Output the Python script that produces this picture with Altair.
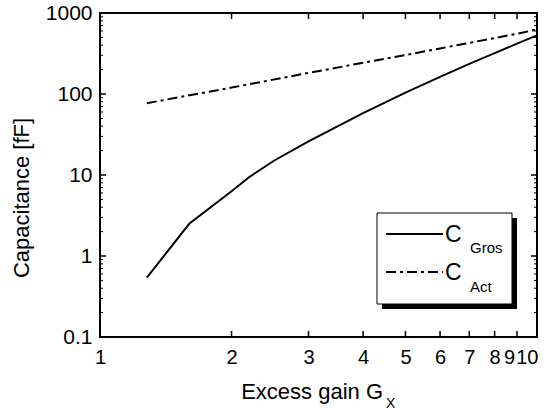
import altair as alt
import pandas as pd

# ---- data ----
gros_g = [1.28, 1.6, 2.0, 2.2, 2.5, 3.0, 4.0, 5.0, 6.0, 7.0, 8.0, 9.0, 10.0]
gros_c = [0.54, 2.5, 6.3, 9.5, 15.0, 26.0, 58.0, 104.0, 163.0, 235.0, 320.0, 418.0, 530.0]
act_g = [1.28, 2.0, 3.0, 4.0, 5.0, 6.0, 7.0, 8.0, 9.0, 10.0]
act_c = [77.0, 120.0, 182.0, 243.0, 303.0, 365.0, 428.0, 490.0, 555.0, 625.0]

x_labels = [1, 2, 3, 4, 5, 6, 7, 8, 9, 10]
y_labels = [0.1, 1, 10, 100, 1000]
x_major_ticks = [2, 3, 4, 5, 6, 7, 8, 9]
y_major_ticks = [1, 10, 100]
y_minor_ticks = [0.2, 0.3, 0.4, 0.5, 0.6, 0.7, 0.8, 0.9,
                 2, 3, 4, 5, 6, 7, 8, 9,
                 20, 30, 40, 50, 60, 70, 80, 90,
                 200, 300, 400, 500, 600, 700, 800, 900]
legend_names = ["C", "C"]
legend_subs = ["Gros", "Act"]

W, H = 437, 324
FONT = "Liberation Sans"

xscale = alt.Scale(type="log", domain=[1, 10], nice=False)
yscale = alt.Scale(type="log", domain=[0.1, 1000], nice=False)
xaxis = alt.Axis(values=x_labels, format="~g", title=None, ticks=False, domain=False,
                 grid=False, labelFontSize=20, labelFont=FONT, labelColor="black",
                 labelOverlap=False, labelFlush=False, labelPadding=10,
                 labelAlign={"condition": {"test": "datum.value == 10", "value": "right"},
                             "value": "center"},
                 labelOffset={"condition": [{"test": "datum.value == 9", "value": -8},
                                            {"test": "datum.value == 10", "value": 1}],
                              "value": 0})
yaxis = alt.Axis(values=y_labels, format="~g", title=None, ticks=False, domain=False,
                 grid=False, labelFontSize=21, labelFont=FONT, labelColor="black",
                 labelOverlap=False, labelFlush=False, labelPadding=8)


def X(f):
    return alt.X(f, type="quantitative", scale=xscale, axis=xaxis)


def Y(f):
    return alt.Y(f, type="quantitative", scale=yscale, axis=yaxis)


df_gros = pd.DataFrame({"G": gros_g, "C": gros_c})
df_act = pd.DataFrame({"G": act_g, "C": act_c})
df_xt = pd.DataFrame({"t": x_major_ticks})
df_yt = pd.DataFrame({"t": y_major_ticks})
df_ym = pd.DataFrame({"t": y_minor_ticks})
one = pd.DataFrame({"a": [0]})

line_gros = alt.Chart(df_gros).mark_line(color="black", strokeWidth=2).encode(x=X("G"), y=Y("C"))
line_act = alt.Chart(df_act).mark_line(color="black", strokeWidth=2, strokeDash=[10, 4, 3, 4]).encode(
    x=X("G"), y=Y("C"))

tick_kw = dict(color="black", strokeWidth=1.5)
xt_bottom = alt.Chart(df_xt).mark_rule(**tick_kw).encode(x=X("t"), y=alt.value(H), y2=alt.value(H - 6))
xt_top = alt.Chart(df_xt).mark_rule(**tick_kw).encode(x=X("t"), y=alt.value(0), y2=alt.value(6))
yt_left = alt.Chart(df_yt).mark_rule(**tick_kw).encode(y=Y("t"), x=alt.value(0), x2=alt.value(6))
yt_right = alt.Chart(df_yt).mark_rule(**tick_kw).encode(y=Y("t"), x=alt.value(W - 6), x2=alt.value(W))
ym_left = alt.Chart(df_ym).mark_rule(color="black", strokeWidth=1).encode(y=Y("t"), x=alt.value(0), x2=alt.value(3))
ym_right = alt.Chart(df_ym).mark_rule(color="black", strokeWidth=1).encode(y=Y("t"), x=alt.value(W - 3), x2=alt.value(W))

# ---- legend box ----
shadow = alt.Chart(one).mark_rect(fill="black").encode(
    x=alt.value(282), x2=alt.value(417), y=alt.value(205), y2=alt.value(296))
box = alt.Chart(one).mark_rect(fill="white", stroke="black", strokeWidth=1).encode(
    x=alt.value(277), x2=alt.value(412), y=alt.value(200), y2=alt.value(291))
leg_solid = alt.Chart(one).mark_rule(color="black", strokeWidth=2).encode(
    x=alt.value(286), x2=alt.value(343), y=alt.value(221))
leg_dash = alt.Chart(one).mark_rule(color="black", strokeWidth=2, strokeDash=[10, 4, 3, 4]).encode(
    x=alt.value(286), x2=alt.value(343), y=alt.value(259))
leg_c1 = alt.Chart(one).mark_text(align="left", baseline="middle", fontSize=23, font=FONT, color="black").encode(
    x=alt.value(345), y=alt.value(222), text=alt.value(legend_names[0]))
leg_c2 = alt.Chart(one).mark_text(align="left", baseline="middle", fontSize=23, font=FONT, color="black").encode(
    x=alt.value(345), y=alt.value(260), text=alt.value(legend_names[1]))
leg_s1 = alt.Chart(one).mark_text(align="left", baseline="alphabetic", fontSize=15, font=FONT, color="black").encode(
    x=alt.value(370), y=alt.value(240), text=alt.value(legend_subs[0]))
leg_s2 = alt.Chart(one).mark_text(align="left", baseline="alphabetic", fontSize=15, font=FONT, color="black").encode(
    x=alt.value(370), y=alt.value(279), text=alt.value(legend_subs[1]))

# ---- axis titles ----
xtitle = alt.Chart(one).mark_text(align="right", baseline="alphabetic", fontSize=22, font=FONT, color="black").encode(
    x=alt.value(283), y=alt.value(386), text=alt.value("Excess gain G"))
xsub = alt.Chart(one).mark_text(align="left", baseline="alphabetic", fontSize=14, font=FONT, color="black").encode(
    x=alt.value(286), y=alt.value(395), text=alt.value("X"))
ytitle = alt.Chart(one).mark_text(align="center", baseline="middle", angle=270, fontSize=22, font=FONT, color="black").encode(
    x=alt.value(-78), y=alt.value(185), text=alt.value("Capacitance [fF]"))

chart = alt.layer(
    line_gros, line_act, xt_bottom, xt_top, yt_left, yt_right, ym_left, ym_right,
    shadow, box, leg_solid, leg_dash, leg_c1, leg_c2, leg_s1, leg_s2,
    xtitle, xsub, ytitle,
).properties(
    width=W, height=H,
    autosize=alt.AutoSizeParams(type="none"),
    padding={"left": 100, "top": 13, "right": 13, "bottom": 73},
    background="white",
).configure_view(stroke="black", strokeWidth=2)

chart.save("out.html", embed_options={"renderer": "svg", "actions": False})
